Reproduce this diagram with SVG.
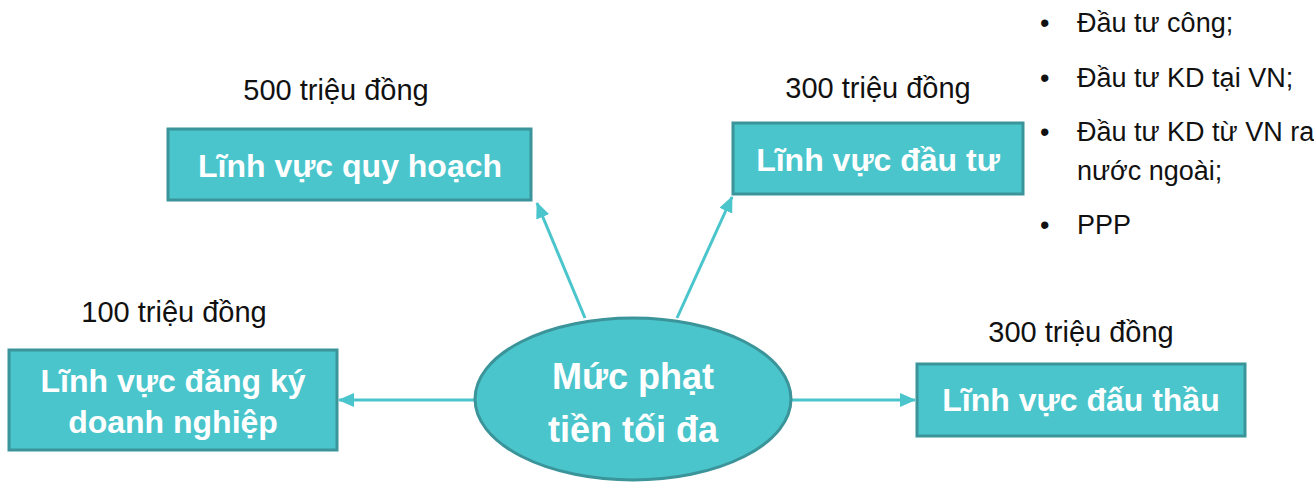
<svg xmlns="http://www.w3.org/2000/svg" width="1314" height="482" viewBox="0 0 1314 482">
<defs>
<style>
.box{fill:#4AC5CC;stroke:#3A9499;stroke-width:3}
.bt{font-family:"Liberation Sans",Arial,sans-serif;font-weight:bold;font-size:32px;fill:#fff;text-anchor:middle}
.ct{font-family:"Liberation Sans",Arial,sans-serif;font-weight:bold;font-size:36px;fill:#fff;text-anchor:middle}
.lbl{font-family:"Liberation Sans",Arial,sans-serif;font-size:29px;fill:#111;text-anchor:middle}
.bul{font-family:"Liberation Sans",Arial,sans-serif;font-size:27px;fill:#111}
.con{stroke:#4AC5CC;stroke-width:3;fill:none;marker-end:url(#ah)}
</style>
<marker id="ah" viewBox="0 0 16 14" refX="15" refY="7" markerWidth="16" markerHeight="14" markerUnits="userSpaceOnUse" orient="auto">
<path d="M0,0 L16,7 L0,14 z" fill="#4AC5CC"/>
</marker>
</defs>
<rect width="1314" height="482" fill="#fff"/>
<g id="connectors">
<line class="con" x1="585" y1="318" x2="537" y2="203"/>
<line class="con" x1="677" y1="318" x2="732" y2="197"/>
<line class="con" x1="475" y1="400" x2="339" y2="400"/>
<line class="con" x1="790" y1="400" x2="915" y2="400"/>
</g>
<g id="center">
<ellipse cx="633" cy="399" rx="158" ry="81" class="box"/>
<text class="ct" x="633" y="389">Mức phạt</text>
<text class="ct" x="633" y="442">tiền tối đa</text>
</g>
<g id="quyhoach">
<rect class="box" x="168" y="129" width="363" height="71"/>
<text class="bt" x="350" y="177">Lĩnh vực quy hoạch</text>
<text class="lbl" x="336" y="100">500 triệu đồng</text>
</g>
<g id="dautu">
<rect class="box" x="733" y="123" width="290" height="71"/>
<text class="bt" x="878" y="171">Lĩnh vực đầu tư</text>
<text class="lbl" x="878" y="98">300 triệu đồng</text>
</g>
<g id="dangky">
<rect class="box" x="9" y="350" width="328" height="100"/>
<text class="bt" x="173" y="392">Lĩnh vực đăng ký</text>
<text class="bt" x="173" y="433">doanh nghiệp</text>
<text class="lbl" x="174" y="322">100 triệu đồng</text>
</g>
<g id="dauthau">
<rect class="box" x="917" y="364" width="328" height="72"/>
<text class="bt" x="1081" y="411">Lĩnh vực đấu thầu</text>
<text class="lbl" x="1081" y="342">300 triệu đồng</text>
</g>
<g id="bullets">
<text class="bul" x="1040" y="32">•</text><text class="bul" x="1077" y="32">Đầu tư công;</text>
<text class="bul" x="1040" y="87">•</text><text class="bul" x="1077" y="87">Đầu tư KD tại VN;</text>
<text class="bul" x="1040" y="141">•</text><text class="bul" x="1077" y="141">Đầu tư KD từ VN ra</text>
<text class="bul" x="1077" y="180">nước ngoài;</text>
<text class="bul" x="1040" y="234">•</text><text class="bul" x="1077" y="234">PPP</text>
</g>
</svg>
